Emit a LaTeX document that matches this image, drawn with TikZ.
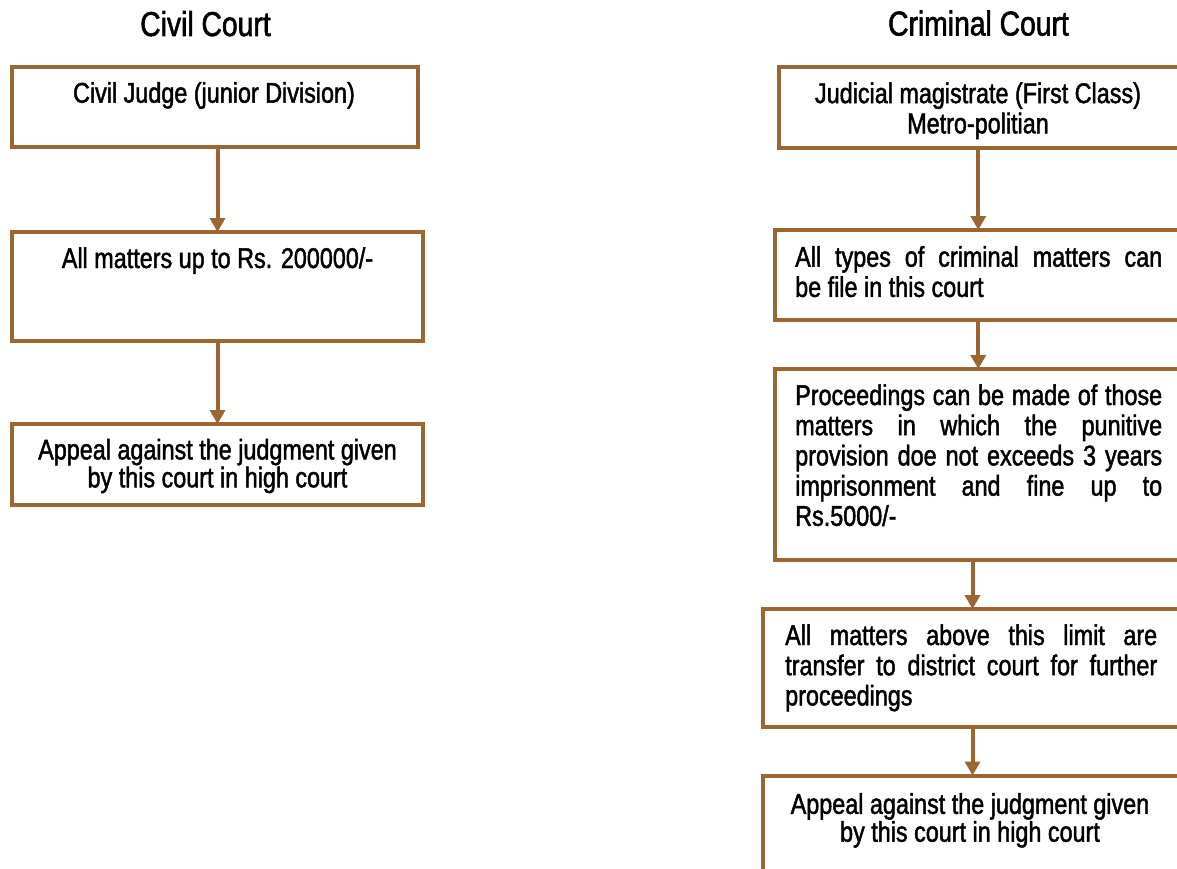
\documentclass[tikz,border=0pt]{standalone}
\usepackage{fontspec}
\setmainfont{Liberation Sans}[FakeStretch=0.82, FakeBold=1.6]
\usetikzlibrary{arrows.meta}
\definecolor{courtbrown}{RGB}{156,102,50}
\begin{document}
\begin{tikzpicture}[x=1pt,y=-1pt,
  box/.style={draw=courtbrown, line width=4pt, rectangle, inner sep=0pt, outer sep=0pt},
  flow/.style={draw=courtbrown, line width=4pt, -{Triangle[width=15pt,length=14pt]}},
  heading/.style={font=\fontsize{34.5}{37}\selectfont, anchor=base, inner sep=0pt},
  body/.style={font=\fontsize{28.5}{30.2}\selectfont, inner sep=0pt},
  tight/.style={font=\fontsize{28.5}{27.9}\selectfont, inner sep=0pt},
]
\clip (0,0) rectangle (1177,869);
\fill[white] (0,0) rectangle (1177,869);

% headings
\node[heading] (civilhead) at (205.5,36) {Civil Court};
\node[heading] (crimhead) at (978.5,35.5) {Criminal Court};

% civil court column
\node[box, minimum width=406pt, minimum height=80pt] (c1) at (214.5,107) {};
\node[box, minimum width=411pt, minimum height=109pt] (c2) at (217.5,286.5) {};
\node[box, minimum width=411pt, minimum height=81pt] (c3) at (217.5,464.5) {};

\node[body, anchor=base] (c1t) at (214,102.7) {Civil Judge (junior Division)};
\node[body, anchor=base] (c2t) at (217.5,268) {All matters up to Rs. 200000/-};
% centred two-line labels sit on the baseline of their last line
\node[tight, anchor=base, align=center] (c3t) at (217.5,487.3)
  {Appeal against the judgment given\\by this court in high court};

\draw[flow] (c1.south -| c2.north) -- (c2.north);
\draw[flow] (c2.south) -- (c3.north);

% criminal court column
\node[box, minimum width=403pt, minimum height=81.5pt] (r1) at (980.5,107.75) {};
\node[box, minimum width=407.5pt, minimum height=90pt] (r2) at (978.25,275) {};
\node[box, minimum width=407.5pt, minimum height=191pt] (r3) at (978.25,464.5) {};
\node[box, minimum width=419pt, minimum height=118pt] (r4) at (972.5,668) {};
\node[box, minimum width=419pt, minimum height=124.5pt] (r5) at (972.5,837.75) {};

\node[body, anchor=base, align=center] (r1t) at (978,133.3)
  {Judicial magistrate (First Class)\\Metro-politian};
\node[body, anchor=base west, text width=367pt, align=justify] (r2t) at (795,266.7)
  {All types of criminal matters can\linebreak be file in this court};
\node[body, anchor=base west, text width=367pt, align=justify] (r3t) at (795,405)
  {Proceedings can be made of those\linebreak matters in which the punitive\linebreak
   provision doe not exceeds 3 years\linebreak imprisonment and fine up to\linebreak Rs.5000/-};
\node[body, anchor=base west, text width=372pt, align=justify] (r4t) at (785,645)
  {All matters above this limit are\linebreak transfer to district court for further\linebreak proceedings};
\node[tight, anchor=base, align=center] (r5t) at (970,841.7)
  {Appeal against the judgment given\\by this court in high court};

\draw[flow] (r1.south -| r2.north) -- (r2.north);
\draw[flow] (r2.south -| r3.north) -- (r3.north);
\draw[flow] (r3.south -| r4.north) -- (r4.north);
\draw[flow] (r4.south -| r5.north) -- (r5.north);
\end{tikzpicture}
\end{document}
